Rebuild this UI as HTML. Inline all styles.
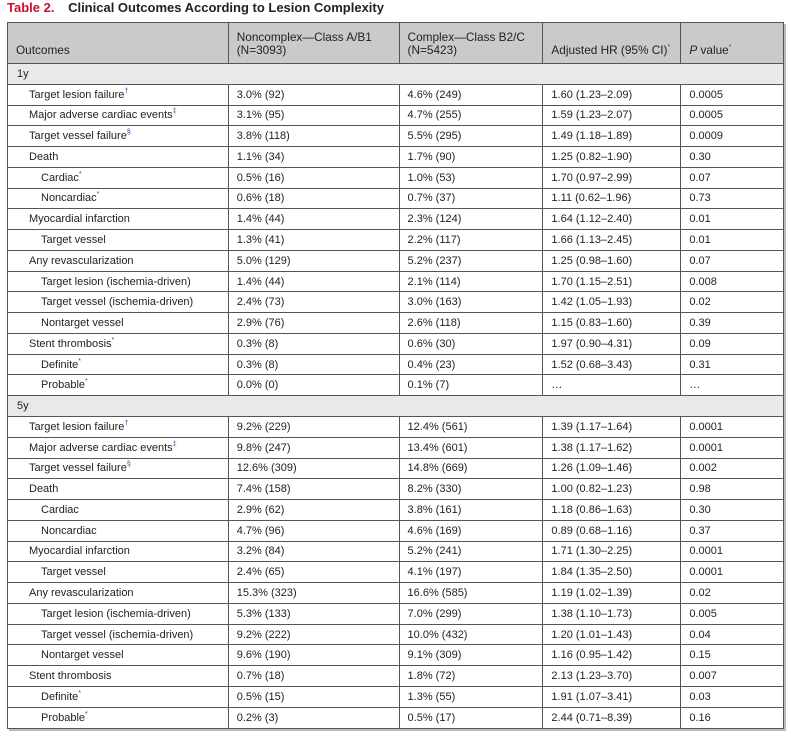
<!DOCTYPE html>
<html><head><meta charset="utf-8"><style>
body{margin:0;width:791px;height:736px;background:#fff;font-family:"Liberation Sans",Arial,sans-serif;color:#222;position:relative;overflow:hidden}
.title{position:absolute;left:7px;top:0px;font-size:13px;font-weight:bold;color:#222;white-space:nowrap}
.title b{color:#c8102e;margin-right:10px}
table{position:absolute;left:7px;top:22px;border-collapse:collapse;width:777px;font-size:11px;box-shadow:2px 2px 0 #bbb}
td{border:1px solid #555;padding:0 0 0 8px;height:19.78px;line-height:12px;white-space:nowrap}
tr.h td{height:34px;background:#cacaca;vertical-align:bottom;padding-bottom:6px;font-size:11.8px;line-height:13px}
tr.s td{background:#e9e9e9;padding-left:9px}
.l1{padding-left:21px}.l2{padding-left:33px}
sup{color:#3344aa;font-size:7px;vertical-align:5px;line-height:0}
</style></head><body>
<div class="title"><b>Table 2.</b> Clinical Outcomes According to Lesion Complexity</div>
<table>
<colgroup><col style="width:221px"><col style="width:171px"><col style="width:144px"><col style="width:138px"><col style="width:103px"></colgroup>
<tr class="h"><td>Outcomes</td><td>Noncomplex—Class A/B1<br>(N=3093)</td><td>Complex—Class B2/C<br>(N=5423)</td><td>Adjusted HR (95% CI)<sup>*</sup></td><td><i>P</i> value<sup>*</sup></td></tr>
<tr class="s"><td colspan="5">1y</td></tr>
<tr><td class="l1">Target lesion failure<sup>†</sup></td><td>3.0% (92)</td><td>4.6% (249)</td><td>1.60 (1.23–2.09)</td><td>0.0005</td></tr>
<tr><td class="l1">Major adverse cardiac events<sup>‡</sup></td><td>3.1% (95)</td><td>4.7% (255)</td><td>1.59 (1.23–2.07)</td><td>0.0005</td></tr>
<tr><td class="l1">Target vessel failure<sup>§</sup></td><td>3.8% (118)</td><td>5.5% (295)</td><td>1.49 (1.18–1.89)</td><td>0.0009</td></tr>
<tr><td class="l1">Death</td><td>1.1% (34)</td><td>1.7% (90)</td><td>1.25 (0.82–1.90)</td><td>0.30</td></tr>
<tr><td class="l2">Cardiac<sup>*</sup></td><td>0.5% (16)</td><td>1.0% (53)</td><td>1.70 (0.97–2.99)</td><td>0.07</td></tr>
<tr><td class="l2">Noncardiac<sup>*</sup></td><td>0.6% (18)</td><td>0.7% (37)</td><td>1.11 (0.62–1.96)</td><td>0.73</td></tr>
<tr><td class="l1">Myocardial infarction</td><td>1.4% (44)</td><td>2.3% (124)</td><td>1.64 (1.12–2.40)</td><td>0.01</td></tr>
<tr><td class="l2">Target vessel</td><td>1.3% (41)</td><td>2.2% (117)</td><td>1.66 (1.13–2.45)</td><td>0.01</td></tr>
<tr><td class="l1">Any revascularization</td><td>5.0% (129)</td><td>5.2% (237)</td><td>1.25 (0.98–1.60)</td><td>0.07</td></tr>
<tr><td class="l2">Target lesion (ischemia-driven)</td><td>1.4% (44)</td><td>2.1% (114)</td><td>1.70 (1.15–2.51)</td><td>0.008</td></tr>
<tr><td class="l2">Target vessel (ischemia-driven)</td><td>2.4% (73)</td><td>3.0% (163)</td><td>1.42 (1.05–1.93)</td><td>0.02</td></tr>
<tr><td class="l2">Nontarget vessel</td><td>2.9% (76)</td><td>2.6% (118)</td><td>1.15 (0.83–1.60)</td><td>0.39</td></tr>
<tr><td class="l1">Stent thrombosis<sup>*</sup></td><td>0.3% (8)</td><td>0.6% (30)</td><td>1.97 (0.90–4.31)</td><td>0.09</td></tr>
<tr><td class="l2">Definite<sup>*</sup></td><td>0.3% (8)</td><td>0.4% (23)</td><td>1.52 (0.68–3.43)</td><td>0.31</td></tr>
<tr><td class="l2">Probable<sup>*</sup></td><td>0.0% (0)</td><td>0.1% (7)</td><td>…</td><td>…</td></tr>
<tr class="s"><td colspan="5">5y</td></tr>
<tr><td class="l1">Target lesion failure<sup>†</sup></td><td>9.2% (229)</td><td>12.4% (561)</td><td>1.39 (1.17–1.64)</td><td>0.0001</td></tr>
<tr><td class="l1">Major adverse cardiac events<sup>‡</sup></td><td>9.8% (247)</td><td>13.4% (601)</td><td>1.38 (1.17–1.62)</td><td>0.0001</td></tr>
<tr><td class="l1">Target vessel failure<sup>§</sup></td><td>12.6% (309)</td><td>14.8% (669)</td><td>1.26 (1.09–1.46)</td><td>0.002</td></tr>
<tr><td class="l1">Death</td><td>7.4% (158)</td><td>8.2% (330)</td><td>1.00 (0.82–1.23)</td><td>0.98</td></tr>
<tr><td class="l2">Cardiac</td><td>2.9% (62)</td><td>3.8% (161)</td><td>1.18 (0.86–1.63)</td><td>0.30</td></tr>
<tr><td class="l2">Noncardiac</td><td>4.7% (96)</td><td>4.6% (169)</td><td>0.89 (0.68–1.16)</td><td>0.37</td></tr>
<tr><td class="l1">Myocardial infarction</td><td>3.2% (84)</td><td>5.2% (241)</td><td>1.71 (1.30–2.25)</td><td>0.0001</td></tr>
<tr><td class="l2">Target vessel</td><td>2.4% (65)</td><td>4.1% (197)</td><td>1.84 (1.35–2.50)</td><td>0.0001</td></tr>
<tr><td class="l1">Any revascularization</td><td>15.3% (323)</td><td>16.6% (585)</td><td>1.19 (1.02–1.39)</td><td>0.02</td></tr>
<tr><td class="l2">Target lesion (ischemia-driven)</td><td>5.3% (133)</td><td>7.0% (299)</td><td>1.38 (1.10–1.73)</td><td>0.005</td></tr>
<tr><td class="l2">Target vessel (ischemia-driven)</td><td>9.2% (222)</td><td>10.0% (432)</td><td>1.20 (1.01–1.43)</td><td>0.04</td></tr>
<tr><td class="l2">Nontarget vessel</td><td>9.6% (190)</td><td>9.1% (309)</td><td>1.16 (0.95–1.42)</td><td>0.15</td></tr>
<tr><td class="l1">Stent thrombosis</td><td>0.7% (18)</td><td>1.8% (72)</td><td>2.13 (1.23–3.70)</td><td>0.007</td></tr>
<tr><td class="l2">Definite<sup>*</sup></td><td>0.5% (15)</td><td>1.3% (55)</td><td>1.91 (1.07–3.41)</td><td>0.03</td></tr>
<tr><td class="l2">Probable<sup>*</sup></td><td>0.2% (3)</td><td>0.5% (17)</td><td>2.44 (0.71–8.39)</td><td>0.16</td></tr>
</table>
</body></html>
